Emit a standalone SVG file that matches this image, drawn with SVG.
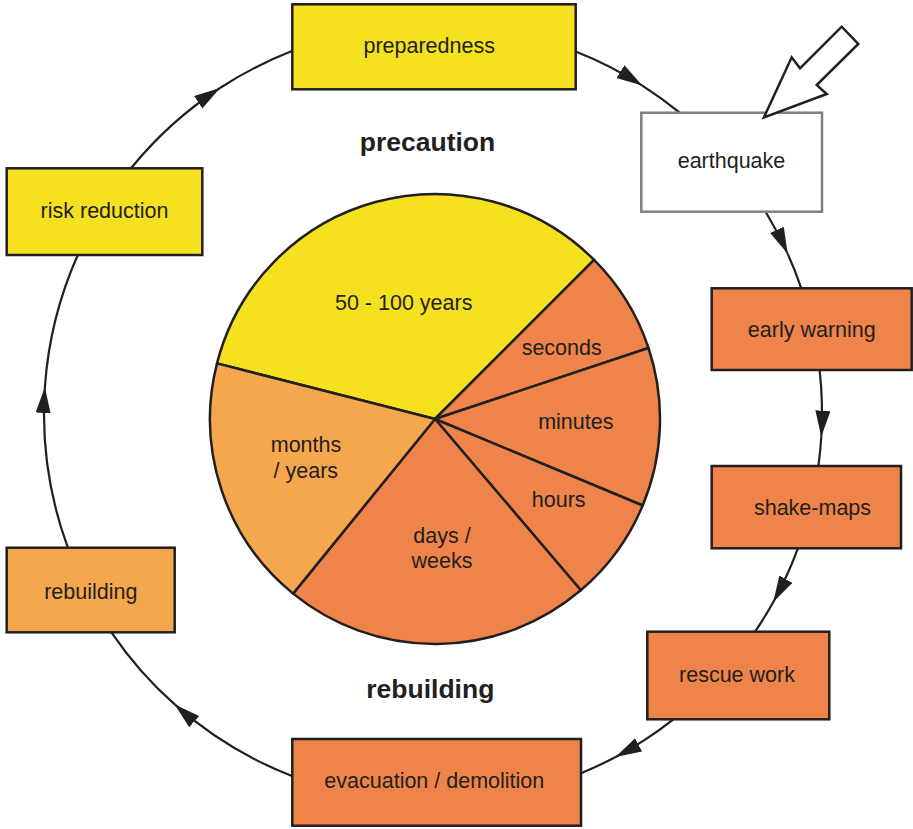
<svg xmlns="http://www.w3.org/2000/svg" width="913" height="829" viewBox="0 0 913 829">
<style>
.box{stroke:#231f20;stroke-width:2.5}
.y{fill:#f5e11f}
.o{fill:#ef844a}
.lo{fill:#f5a74e}
.t{font-family:"Liberation Sans",Arial,sans-serif;font-size:21.5px;fill:#231f20;text-anchor:middle}
.b{font-family:"Liberation Sans",Arial,sans-serif;font-size:26.5px;font-weight:bold;fill:#231f20;text-anchor:middle}
.c{fill:none;stroke:#231f20;stroke-width:2.2}
.s{stroke:#231f20;stroke-width:2.5;stroke-linejoin:round}
</style>
<defs>
<marker id="ah" markerUnits="userSpaceOnUse" markerWidth="28" markerHeight="16" refX="26" refY="7.5" orient="auto">
<path d="M0,0 L26,7.5 L0,15 Z" fill="#231f20"/>
</marker>
</defs>
<rect width="913" height="829" fill="#fff"/>
<g id="connectors">
<path class="c" d="M131,168.3 A389,389 0 0 1 220,88" marker-end="url(#ah)"/>
<path class="c" d="M220,88 A389,389 0 0 1 292,51"/>
<path class="c" d="M575,51.3 A389,389 0 0 1 642.3,85.6" marker-end="url(#ah)"/>
<path class="c" d="M642.3,85.6 A389,389 0 0 1 679.7,112.7"/>
<path class="c" d="M765.6,211.7 A389,389 0 0 1 787.6,253.6" marker-end="url(#ah)"/>
<path class="c" d="M787.6,253.6 A389,389 0 0 1 801.3,288.3"/>
<path class="c" d="M819.6,370 A389,389 0 0 1 821.3,436.7" marker-end="url(#ah)"/>
<path class="c" d="M821.3,436.7 A389,389 0 0 1 818.4,466"/>
<path class="c" d="M797.9,548.3 A389,389 0 0 1 773.3,602" marker-end="url(#ah)"/>
<path class="c" d="M773.3,602 A389,389 0 0 1 755,631.7"/>
<path class="c" d="M673.4,719.3 A389,389 0 0 1 615.6,757" marker-end="url(#ah)"/>
<path class="c" d="M615.6,757 A389,389 0 0 1 581,773.2"/>
<path class="c" d="M292,776 A389,389 0 0 1 174.7,704.4" marker-end="url(#ah)"/>
<path class="c" d="M174.7,704.4 A389,389 0 0 1 111.4,632.3"/>
<path class="c" d="M67.9,547.7 A389,389 0 0 1 44.9,387" marker-end="url(#ah)"/>
<path class="c" d="M44.9,387 A389,389 0 0 1 77.8,255"/>
</g>
<g id="pie">
<path class="s y" d="M435,419 L217,363.4 A225,225 0 0 1 594.1,259.9 Z"/>
<path class="s o" d="M435,419 L594.1,259.9 A225,225 0 0 1 648.5,348 Z"/>
<path class="s o" d="M435,419 L648.5,348 A225,225 0 0 1 642.7,505.5 Z"/>
<path class="s o" d="M435,419 L642.7,505.5 A225,225 0 0 1 580.8,590.3 Z"/>
<path class="s o" d="M435,419 L580.8,590.3 A225,225 0 0 1 293.1,593.6 Z"/>
<path class="s lo" d="M435,419 L293.1,593.6 A225,225 0 0 1 217,363.4 Z"/>
<text class="t" x="403.7" y="310">50 - 100 years</text>
<text class="t" x="561.7" y="355">seconds</text>
<text class="t" x="575.8" y="429.3">minutes</text>
<text class="t" x="558.7" y="506.7">hours</text>
<text class="t" x="442" y="542.7">days /</text>
<text class="t" x="442" y="568.3">weeks</text>
<text class="t" x="306" y="451.7">months</text>
<text class="t" x="305.8" y="477.7">/ years</text>
</g>
<g id="label-precaution"><text class="b" x="427.5" y="151">precaution</text></g>
<g id="label-rebuilding"><text class="b" x="430.3" y="698.3">rebuilding</text></g>
<g id="preparedness">
<rect class="box y" x="292.3" y="4.3" width="283.4" height="85"/>
<text class="t" x="429.2" y="53.3">preparedness</text>
</g>
<g id="earthquake">
<rect x="641.3" y="112.7" width="180.7" height="99" fill="#fff" stroke="#808080" stroke-width="2.5"/>
<text class="t" x="731.5" y="168.3">earthquake</text>
</g>
<g id="impact-arrow">
<polygon points="764,117.3 791.7,57.3 800,68.3 841.7,26.7 858.3,44 816.7,85 826.7,94" fill="#fff" stroke="#231f20" stroke-width="2.5" stroke-linejoin="miter"/>
</g>
<g id="early-warning">
<rect class="box o" x="711.7" y="288.3" width="200" height="81.7"/>
<text class="t" x="811.8" y="336.7">early warning</text>
</g>
<g id="shake-maps">
<rect class="box o" x="711.7" y="466" width="189.3" height="82.3"/>
<text class="t" x="812.5" y="515">shake-maps</text>
</g>
<g id="rescue-work">
<rect class="box o" x="647.3" y="631.7" width="182" height="87.6"/>
<text class="t" x="737" y="681.7">rescue work</text>
</g>
<g id="evacuation">
<rect class="box o" x="292.3" y="739" width="288.7" height="86.7"/>
<text class="t" x="434.3" y="788.3">evacuation / demolition</text>
</g>
<g id="rebuilding">
<rect class="box lo" x="6.7" y="547.7" width="168" height="84.6"/>
<text class="t" x="90.8" y="599.3">rebuilding</text>
</g>
<g id="risk-reduction">
<rect class="box y" x="6.7" y="168.3" width="195.6" height="86.7"/>
<text class="t" x="104.5" y="218.3">risk reduction</text>
</g>
</svg>
